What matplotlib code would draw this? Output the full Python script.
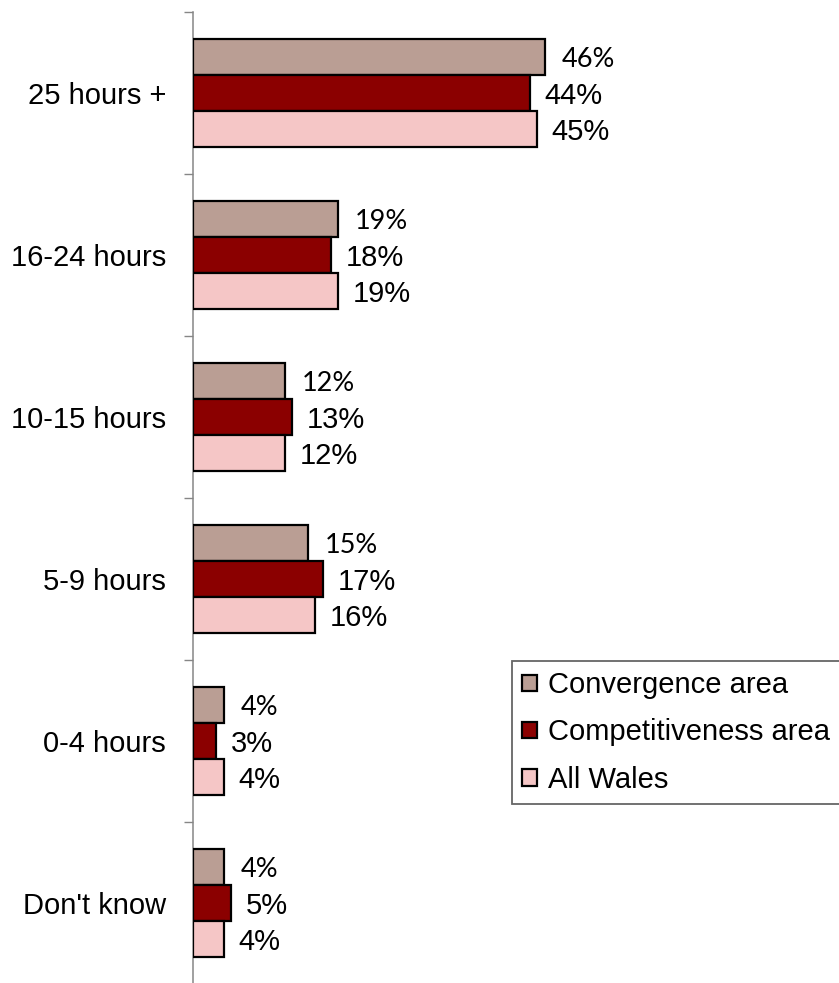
import matplotlib
matplotlib.use('Agg')
import matplotlib.pyplot as plt
from matplotlib.patches import Patch
import numpy as np

categories = ["25 hours +", "16-24 hours", "10-15 hours", "5-9 hours", "0-4 hours", "Don't know"]
series_names = ["Convergence area", "Competitiveness area", "All Wales"]
convergence = [46, 19, 12, 15, 4, 4]
competitiveness = [44, 18, 13, 17, 3, 5]
all_wales = [45, 19, 12, 16, 4, 4]
colors = ['#BA9E94', '#8B0000', '#F5C6C6']

W, H = 839, 983
FS = 21
ARIAL = 'Liberation Sans'
CALIBRI = ['Lato', 'DejaVu Sans']

fig = plt.figure(figsize=(W / 100, H / 100), dpi=100)
ax = fig.add_axes([193 / W, (H - 984) / H, (W - 193) / W, (984 - 12) / H])

y = np.arange(len(categories))
bh = 0.222
series = [convergence, competitiveness, all_wales]
offsets = [-bh, 0, bh]
for vals, off, col, name, idx in zip(series, offsets, colors, series_names, range(3)):
    bars = ax.barh(y + off, vals, height=bh, color=col, edgecolor='black',
                   linewidth=1.6, label=name, zorder=3)
    for b, v in zip(bars, vals):
        fam = CALIBRI if idx == 0 else ARIAL
        fsz = FS - 1.5 if idx == 0 else FS
        dx = 12 if idx == 0 else 10.5
        ax.annotate(f"{v}%", xy=(b.get_width(), b.get_y() + b.get_height() / 2),
                    xytext=(dx, -2), textcoords='offset points', ha='left', va='center',
                    fontsize=fsz, family=fam, color='black')

ax.set_xlim(0, (W - 193) / 7.65)
ax.set_ylim(len(categories) - 0.5, -0.5)
ax.set_xticks([])
ax.set_yticks(np.arange(len(categories) + 1) - 0.5)
ax.set_yticklabels([])
ax.set_yticks(y, minor=True)
ax.set_yticklabels(categories, minor=True, fontsize=FS, family=ARIAL)
ax.tick_params(axis='y', which='major', length=6.5, width=1.0, color='#868686', direction='out')
ax.tick_params(axis='y', which='minor', length=0, pad=19.5)
for s in ['top', 'right', 'bottom']:
    ax.spines[s].set_visible(False)
ax.spines['left'].set_color('#868686')
ax.spines['left'].set_linewidth(1.1)

handles = [Patch(facecolor=c, edgecolor='black', linewidth=1.6) for c in colors]
leg = fig.legend(handles, series_names, loc='upper left',
                 bbox_to_anchor=(512 / W, 1 - 661 / H), bbox_transform=fig.transFigure,
                 borderaxespad=0, frameon=True, fancybox=False, edgecolor='#404040',
                 prop={'family': ARIAL, 'size': FS}, handlelength=0.5, handleheight=0.5,
                 handletextpad=0.4, labelspacing=0.66, borderpad=0.35)
leg.get_frame().set_linewidth(1.3)

fig.savefig('out.png', dpi=100)
